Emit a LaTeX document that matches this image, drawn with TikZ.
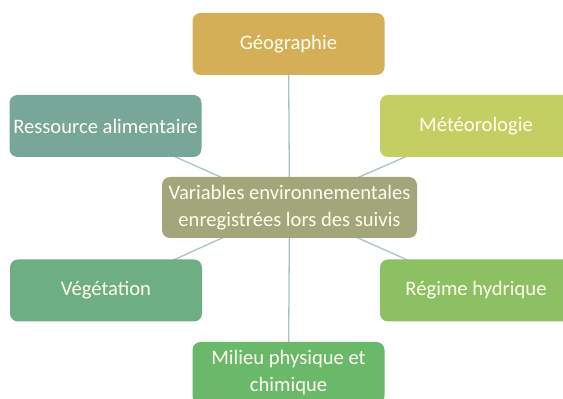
\documentclass[tikz,border=0pt]{standalone}
\usepackage{fontspec}
\setmainfont{Carlito}
\usetikzlibrary{backgrounds}

\definecolor{geocol}{HTML}{D5AE58}
\definecolor{foodcol}{HTML}{78A79A}
\definecolor{meteocol}{HTML}{C5CE62}
\definecolor{hubcol}{HTML}{A3A67A}
\definecolor{vegcol}{HTML}{6DAE85}
\definecolor{watercol}{HTML}{8DC062}
\definecolor{soilcol}{HTML}{6AB86A}
\definecolor{linkcol}{HTML}{A9C1C9}

\begin{document}
\begin{tikzpicture}[x=1pt, y=1pt,
  box/.style={rounded corners=8pt, minimum width=192pt, minimum height=62pt,
    inner sep=0pt, align=center, text=white!94!yellow,
    font=\fontsize{20.6}{27}\selectfont},
  link/.style={draw=linkcol, line width=1.3pt}]
% page frame
\clip (0,0) rectangle (563,399);
% central node
\node[box, fill=hubcol, minimum width=255pt, minimum height=61pt] (hub) at (289.5,191.5)
  {Variables environnementales\\enregistrées lors des suivis};
% surrounding variables
\node[box, fill=geocol] (geo) at (288.5,355) {Géographie};
\node[box, fill=foodcol] (food) at (105.5,273) {Ressource alimentaire};
\node[box, fill=meteocol] (meteo) at (476,273) {Météorologie};
\node[box, fill=vegcol] (veg) at (106,108.5) {Végétation};
\node[box, fill=watercol] (water) at (476,108.5) {Régime hydrique};
\node[box, fill=soilcol] (soil) at (288.5,26) {Milieu physique et\\chimique};
% links behind the boxes
\begin{pgfonlayer}{background}
  \foreach \n in {geo, food, meteo, veg, water, soil}
    \draw[link] (hub.center) -- (\n.center);
\end{pgfonlayer}
\end{tikzpicture}
\end{document}
